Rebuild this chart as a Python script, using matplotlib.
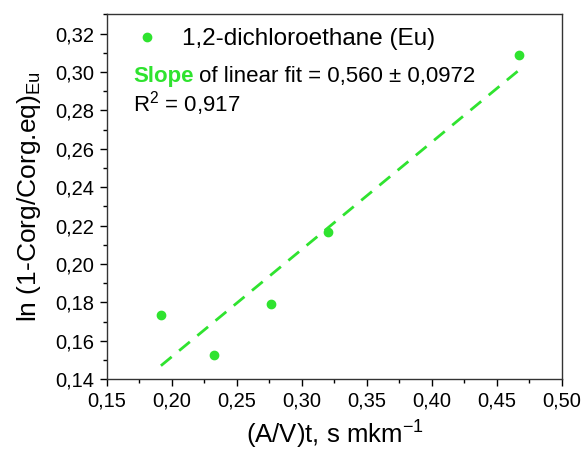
import matplotlib
matplotlib.use('Agg')
import matplotlib.pyplot as plt
import numpy as np
from matplotlib.ticker import MultipleLocator, FuncFormatter

# Data
x_vals = [0.1915, 0.2324, 0.2759, 0.3200, 0.4668]
y_vals = [0.1733, 0.1527, 0.1792, 0.2168, 0.3091]
series_label = '1,2-dichloroethane (Eu)'
slope_text = ' of linear fit = 0,560 \u00b1 0,0972'
r2_text = 'R$^2$ = 0,917'

green = '#2fe32f'

plt.rcParams['font.family'] = ['Liberation Sans', 'DejaVu Sans']
plt.rcParams['mathtext.fontset'] = 'custom'
plt.rcParams['mathtext.rm'] = 'Liberation Sans'
plt.rcParams['mathtext.it'] = 'Liberation Sans:italic'


def comma_fmt(v, pos):
    return '{:.2f}'.format(v).replace('.', ',')


fig = plt.figure(figsize=(5.82, 4.53), dpi=100)
ax = fig.add_axes([0.1838, 0.1627, 0.7818, 0.8053])

ax.plot(x_vals, y_vals, 'o', color=green, markersize=6, label=series_label)

# Linear fit
k, b = np.polyfit(x_vals, y_vals, 1)
xf = np.array([min(x_vals), max(x_vals)])
ax.plot(xf, k * xf + b, '--', color=green, lw=2, dashes=(5, 3.5))

ax.set_xlim(0.15, 0.50)
ax.set_ylim(0.14, 0.33)
ax.xaxis.set_major_locator(MultipleLocator(0.05))
ax.xaxis.set_minor_locator(MultipleLocator(0.025))
ax.yaxis.set_major_locator(MultipleLocator(0.02))
ax.yaxis.set_minor_locator(MultipleLocator(0.01))
ax.xaxis.set_major_formatter(FuncFormatter(comma_fmt))
ax.yaxis.set_major_formatter(FuncFormatter(comma_fmt))
ax.tick_params(which='major', direction='out', length=5, width=1, labelsize=14.5, pad=4)
ax.tick_params(which='minor', direction='out', length=3, width=1)
for sp in ax.spines.values():
    sp.set_linewidth(1)
    sp.set_color('#333333')

ax.set_xlabel('(A/V)t, s mkm$^{-1}$', fontsize=18.5, labelpad=6)
ax.set_ylabel('ln (1-Corg/Corg.eq)$_{\\mathrm{Eu}}$', fontsize=19, labelpad=9)

ax.legend(loc='upper left', bbox_to_anchor=(0.055, 0.962), frameon=False,
          fontsize=17.5, handlelength=1.2, handletextpad=0.85,
          borderpad=0, borderaxespad=0)

# Annotation: green bold "Slope" followed by black text on the same baseline
t1 = ax.text(0.057, 0.816, 'Slope', transform=ax.transAxes, fontsize=16,
             fontweight='bold', color=green, va='baseline', ha='left')
fig.canvas.draw()
bb = t1.get_window_extent()
x_end = ax.transAxes.inverted().transform((bb.x1, bb.y0))[0]
ax.text(x_end, 0.816, slope_text, transform=ax.transAxes, fontsize=16,
        va='baseline', ha='left')
ax.text(0.057, 0.733, r2_text, transform=ax.transAxes, fontsize=16,
        va='baseline', ha='left')

fig.savefig('out.png', dpi=100)
